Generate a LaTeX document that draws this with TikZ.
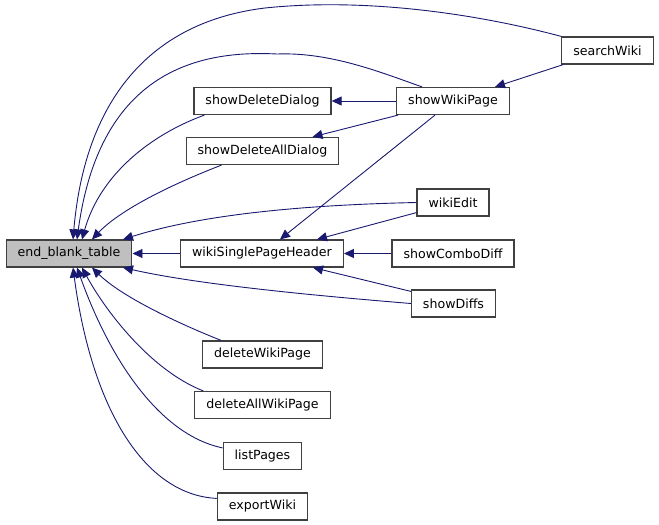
\documentclass[tikz,border=0pt]{standalone}
\usepackage{fontspec}
\setmainfont{DejaVu Sans}
\usetikzlibrary{arrows.meta}
\definecolor{edgeblue}{RGB}{25,25,112}
\definecolor{boxline}{RGB}{64,64,64}
\definecolor{rootfill}{RGB}{191,191,191}
\begin{document}
\begin{tikzpicture}[x=1pt,y=-1pt,
        fn/.style={draw=boxline,line width=1.2pt,fill=white,minimum height=27pt,inner xsep=11.5pt,font=\fontsize{12.6}{15}\selectfont},
        root/.style={fn,fill=rootfill},
        call/.style={draw=edgeblue,line width=0.9pt,-{Triangle[length=10pt,width=9pt]}}]
        \useasboundingbox (0,0) rectangle (659,525);
        \node[root] (ebt) at (69,253.5) {end\_blank\_table};
        \node[fn] (wsph) at (262,253.5) {wikiSinglePageHeader};
        \node[fn] (sdd) at (262.5,101) {showDeleteDialog};
        \node[fn] (sdad) at (262.5,151) {showDeleteAllDialog};
        \node[fn] (swp) at (453,101) {showWikiPage};
        \node[fn] (sw) at (607.5,50.5) {searchWiki};
        \node[fn] (we) at (453,202.5) {wikiEdit};
        \node[fn] (scd) at (453,253.5) {showComboDiff};
        \node[fn] (sdf) at (453.5,303.5) {showDiffs};
        \node[fn] (dwp) at (262.5,354.5) {deleteWikiPage};
        \node[fn] (dawp) at (262.5,405) {deleteAllWikiPage};
        \node[fn] (lp) at (262.5,456) {listPages};
        \node[fn] (ew) at (262.5,506.5) {exportWiki};
        % calls into end_blank_table
        \draw[call] (sw.north west) .. controls (470,12) and (360,-2) .. (265,8) .. controls (150,22) and (85,100) .. ([xshift=4pt]ebt.north);
        \draw[call] ([xshift=-31pt]swp.north) .. controls (380,72) and (330,52) .. (277,54) .. controls (200,50) and (100,70) .. ([xshift=8pt]ebt.north);
        \draw[call] ([xshift=11pt]sdd.south west) .. controls (150,135) and (100,175) .. ([xshift=13pt]ebt.north);
        \draw[call] ([xshift=36pt]sdad.south west) .. controls (170,185) and (120,210) .. ([xshift=23pt]ebt.north);
        \draw[call] (we.west) .. controls (300,205) and (200,215) .. ([xshift=54pt]ebt.north);
        \draw[call] (wsph) -- (ebt);
        \draw[call] (sdf.west) .. controls (320,296) and (200,285) .. ([xshift=54pt]ebt.south);
        \draw[call] ([xshift=19pt]dwp.north west) .. controls (170,320) and (120,295) .. ([xshift=23pt]ebt.south);
        \draw[call] ([xshift=9pt]dawp.north west) .. controls (150,370) and (105,310) .. ([xshift=13pt]ebt.south);
        \draw[call] ([yshift=-6pt]lp.north west) .. controls (160,435) and (110,360) .. ([xshift=8pt]ebt.south);
        \draw[call] ([yshift=-6pt]ew.north west) .. controls (145,495) and (92,410) .. ([xshift=4pt]ebt.south);
        % other calls
        \draw[call] ([xshift=2pt]sw.south west) -- ([xshift=42pt]swp.north);
        \draw[call] (swp) -- (sdd);
        \draw[call] ([xshift=2pt]swp.south west) -- ([xshift=50pt]sdad.north);
        \draw[call] ([xshift=-18pt]swp.south) -- ([xshift=18pt]wsph.north);
        \draw[call] ([yshift=4pt]we.south west) -- ([xshift=55pt]wsph.north);
        \draw[call] (scd) -- (wsph);
        \draw[call] ([yshift=-2pt]sdf.north west) -- ([xshift=51pt]wsph.south);
\end{tikzpicture}
\end{document}
